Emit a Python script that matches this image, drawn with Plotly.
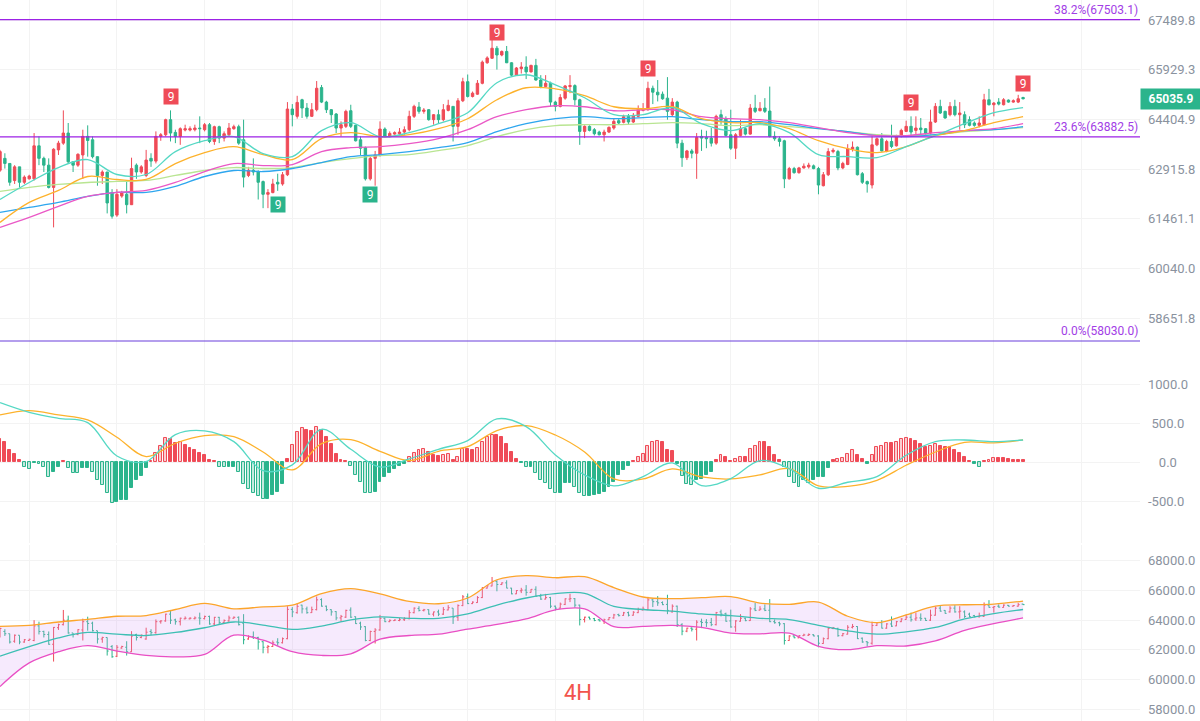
import math
import plotly.graph_objects as go

# 4H candles, oldest first
opens = [62884, 63237, 63086, 62581, 62985, 62530, 62631, 62631, 63611, 63237,
         63035, 62379, 63490, 63692, 63995, 63136, 63035, 63338, 63894, 63793,
         63288, 62732, 62833, 62227, 61571, 62126, 62177, 61874, 63035, 62833,
         62732, 63237, 63156, 63894, 63944, 64399, 64015, 63894, 64085, 64085,
         64096, 64146, 64096, 64247, 63742, 64186, 63843, 63944, 64126, 64186,
         63793, 62732, 62884, 62833, 62550, 62177, 62227, 62530, 62480, 62752,
         64722, 64500, 65005, 64752, 64500, 64702, 65378, 64934, 64702, 64570,
         64146, 64197, 64671, 64227, 63793, 63560, 62631, 63237, 63338, 64116,
         63894, 63964, 63974, 64025, 64096, 64500, 64782, 64651, 64702, 64399,
         64550, 64399, 64681, 64803, 64197, 64974, 65560, 65106, 65176, 65510,
         66146, 66287, 66600, 66388, 66499, 66146, 65762, 65964, 66015, 65863,
         66065, 65611, 65409, 65510, 64934, 64803, 65055, 65409, 65439, 65005,
         64045, 64197, 64096, 64025, 63944, 64025, 64146, 64368, 64318, 64500,
         64328, 64500, 64681, 64702, 65358, 65237, 65176, 65055, 64550, 64934,
         63692, 63257, 63459, 63389, 63894, 63863, 63843, 63692, 64550, 64429,
         63944, 63540, 63924, 64126, 63964, 64752, 64671, 64752, 64661, 63894,
         63823, 63762, 62631, 62934, 62813, 62954, 62985, 63015, 62934, 62429,
         62752, 63439, 63439, 62954, 63055, 63520, 63570, 62783, 62550, 62449,
         63641, 63823, 63459, 63742, 63611, 63894, 64045, 64197, 64075, 64146,
         64126, 63995, 64328, 64803, 64651, 64550, 64803, 64550, 64550, 64399,
         64298, 64227, 64247, 65005, 64853, 64934, 64853, 64994, 64934, 64934,
         65075]
highs = [63490, 63389, 63086, 63035, 62985, 62732, 62752, 63995, 63894, 63288,
         63237, 63540, 63762, 64681, 64298, 63136, 63389, 64096, 64227, 63894,
         63288, 62884, 62833, 62328, 62328, 62278, 62581, 63257, 63086, 63035,
         63490, 63389, 64045, 63995, 64429, 64681, 64096, 64166, 64247, 64197,
         64247, 64500, 64298, 64298, 64217, 64217, 64045, 64298, 64247, 64247,
         64399, 62985, 63237, 62884, 62581, 62328, 62631, 62783, 62833, 64934,
         64873, 65126, 65035, 64904, 64904, 65580, 65459, 64974, 64722, 64601,
         64348, 64702, 64853, 64247, 63894, 63591, 63288, 63459, 64348, 64166,
         64045, 64045, 64146, 64197, 64671, 64853, 64934, 64752, 64722, 64570,
         64702, 64873, 65005, 64803, 65055, 65681, 65782, 65257, 65611, 66217,
         66348, 66893, 66671, 66530, 66671, 66166, 66015, 66166, 66348, 66085,
         66267, 65762, 65762, 65560, 64974, 65176, 65459, 65762, 65479, 65035,
         64227, 64227, 64146, 64065, 64096, 64197, 64419, 64429, 64550, 64570,
         64601, 64833, 64904, 65560, 65439, 65611, 65257, 65701, 65055, 64974,
         63793, 63490, 63520, 63995, 64096, 64065, 64146, 64550, 64702, 64500,
         64702, 63995, 64399, 64166, 64873, 65156, 64934, 65055, 65409, 64045,
         63894, 63793, 62985, 62985, 62985, 63086, 63106, 63055, 62985, 62833,
         63540, 63540, 63490, 63136, 63661, 63742, 63591, 62833, 62581, 63894,
         63863, 63995, 63793, 64247, 63944, 64126, 64368, 64500, 64500, 64449,
         64146, 64702, 64904, 65005, 64671, 64934, 65005, 64934, 64651, 64500,
         64348, 64500, 65186, 65338, 64934, 65055, 65055, 65015, 65015, 65156,
         65095]
lows = [62833, 62934, 62429, 62480, 62379, 62480, 62611, 62581, 63035, 62833,
        62348, 61217, 63338, 63641, 63086, 62833, 62985, 62631, 63288, 63237,
        62429, 62480, 61621, 61470, 61520, 62076, 61621, 61864, 62631, 62783,
        62682, 62985, 63086, 63762, 63894, 63742, 63692, 63641, 64045, 64045,
        64045, 63692, 64045, 63692, 63641, 63692, 63742, 63894, 64096, 63641,
        62379, 62682, 62732, 62025, 61773, 61773, 62207, 62278, 62429, 62712,
        64197, 64429, 64449, 64429, 64479, 64651, 64904, 64601, 64298, 63995,
        63894, 64146, 64146, 63742, 63338, 62581, 62581, 62429, 63288, 63863,
        63863, 63944, 63924, 63944, 64045, 64449, 64580, 64580, 64368, 64247,
        64267, 64348, 64651, 63742, 63944, 64934, 65075, 65075, 65156, 65479,
        66116, 66267, 65934, 66348, 66136, 65732, 65742, 65813, 65641, 65843,
        65590, 65358, 65388, 64803, 64651, 64772, 65005, 65207, 64833, 63641,
        63843, 64045, 63924, 63924, 63742, 63995, 64096, 64247, 64287, 64247,
        64298, 64469, 64651, 64671, 64873, 64954, 65005, 64399, 64500, 63540,
        62985, 63187, 63237, 62631, 63459, 63540, 63591, 63641, 64247, 63894,
        63490, 63217, 63894, 63924, 63944, 64601, 64651, 64601, 63863, 63762,
        63591, 62358, 62611, 62783, 62783, 62934, 62934, 62914, 62177, 62409,
        62712, 63389, 62884, 62914, 63035, 63439, 62732, 62480, 62227, 62348,
        63601, 63439, 63419, 63540, 63591, 63863, 64025, 63894, 63944, 63944,
        63944, 63944, 64298, 64570, 64429, 64500, 64500, 64096, 64146, 64197,
        64186, 64166, 64227, 64833, 64500, 64833, 64833, 64914, 64914, 64904,
        65015]
closes = [63439, 63086, 62530, 62985, 62530, 62682, 62712, 63611, 63237, 63035,
          62379, 63510, 63692, 63995, 63136, 63035, 63358, 63894, 63772, 63288,
          62732, 62833, 61924, 61540, 62177, 62227, 61874, 62934, 62833, 62985,
          63187, 63156, 63894, 63944, 64399, 63995, 63894, 64126, 64126, 64126,
          64146, 64126, 64247, 63742, 64186, 63843, 63974, 64146, 64186, 63692,
          62682, 62884, 62833, 62530, 62177, 62227, 62480, 62480, 62752, 64722,
          64550, 64924, 64752, 64500, 64702, 65358, 64934, 64702, 64550, 64146,
          64247, 64651, 64197, 63762, 63540, 62631, 63237, 63338, 64116, 63894,
          63984, 64005, 64025, 64096, 64500, 64803, 64651, 64691, 64399, 64550,
          64399, 64702, 64833, 64197, 64974, 65560, 65106, 65207, 65510, 66166,
          66297, 66600, 66388, 66499, 66146, 65762, 65984, 66015, 65863, 66065,
          65611, 65409, 65510, 64934, 64803, 65075, 65429, 65439, 65005, 64045,
          64197, 64075, 63974, 63944, 64025, 64166, 64348, 64298, 64489, 64328,
          64530, 64712, 64732, 65358, 65237, 65156, 65035, 64651, 64934, 63692,
          63257, 63459, 63389, 63863, 63843, 63823, 63692, 64500, 64399, 63924,
          63540, 63944, 64126, 63964, 64752, 64651, 64742, 64651, 63894, 63823,
          63742, 62631, 62934, 62813, 62954, 63005, 63035, 62934, 62449, 62752,
          63439, 63479, 62954, 63086, 63520, 63570, 62752, 62530, 62480, 63641,
          63823, 63459, 63742, 63591, 63894, 64075, 64197, 64025, 64146, 64096,
          63974, 64328, 64803, 64601, 64449, 64803, 64550, 64601, 64247, 64227,
          64227, 64298, 65005, 64853, 64904, 64873, 65005, 64934, 64974, 65035,
          65035.9]
candle_idx = list(range(len(closes)))

# indicator lines, read every 6th candle
line_idx = list(range(0, 211, 6))
ma_cyan = [62028, 62524, 62965, 63201, 62759, 62759, 63438, 63766, 63886, 63379,
           63290, 64066, 64307, 63886, 64006, 64277, 64610, 65527, 65774, 65465,
           65067, 64550, 64550, 64762, 64277, 64066, 64277, 64006, 63349, 63290,
           63260, 63587, 63916, 64277, 64610, 64762]
ma_orange = [61361, 61940, 62290, 62700, 62612, 62612, 63083, 63408, 63587, 63349,
             63201, 63826, 64006, 63886, 63946, 64126, 64428, 65006, 65373, 65342,
             65129, 64792, 64731, 64792, 64428, 64307, 64307, 64126, 63766, 63527,
             63408, 63587, 63916, 64066, 64307, 64489]
ma_magenta = [61217, 61505, 61824, 62115, 62232, 62290, 62524, 62847, 63083, 63024,
              63054, 63438, 63557, 63587, 63676, 63826, 64096, 64489, 64701, 64822,
              64792, 64670, 64701, 64701, 64489, 64428, 64398, 64307, 64156, 64006,
              63916, 63916, 64006, 64066, 64126, 64277]
ma_blue = [61650, 61795, 61940, 62115, 62232, 62232, 62407, 62700, 62877, 62847,
           62936, 63113, 63290, 63349, 63438, 63557, 63706, 64036, 64277, 64428,
           64489, 64428, 64459, 64489, 64398, 64338, 64338, 64247, 64126, 64036,
           63916, 63886, 63946, 64066, 64096, 64187]
ma_lime = [62261, 62378, 62466, 62524, 62554, 62583, 62730, 62877, 62965, 62936,
           62965, 63113, 63231, 63319, 63349, 63468, 63617, 63886, 64096, 64217,
           64247, 64247, 64277, 64307, 64277, 64217, 64247, 64187, 64126, 64036,
           63946, 63916, 63946, 64036, 64096, 64156]

dif = [765, 641, 564, 509, 81, 9, 355, 402, 265, -107, -34, 423, 167, -60, 43, 167,
       278, 556, 457, 94, -162, -303, -184, -9, -299, -209, 21, -81, -333, -256,
       -184, 90, 265, 286, 265, 286]
dea = [607, 662, 607, 543, 321, 73, 244, 342, 329, 132, -98, 239, 291, 141, 21, 141,
       201, 406, 470, 350, 132, -214, -214, -85, -188, -214, -162, -81, -303, -308,
       -231, -38, 132, 256, 248, 286]
macd_hist = [295, 265, 158, 107, 30, -56, -90, -13, -21, -64,
             -184, -120, -56, 21, -68, -132, -141, -77, -77, -120,
             -226, -291, -389, -517, -504, -483, -483, -333, -226, -175,
             -77, 21, 124, 209, 308, 295, 252, 265, 222, 180,
             158, 124, 94, 30, 17, -56, -64, -64, -64, -120,
             -278, -346, -389, -427, -474, -474, -419, -376, -278, 38,
             218, 393, 436, 415, 406, 449, 415, 320, 235, 107,
             30, 21, -47, -162, -248, -389, -397, -376, -248, -184,
             -132, -90, -47, -21, 64, 115, 158, 167, 137, 94,
             81, 94, 103, 30, 64, 167, 167, 158, 180, 265,
             329, 350, 350, 320, 235, 137, 38, -13, -64, -64,
             -141, -226, -269, -346, -397, -389, -269, -261, -312, -397,
             -427, -427, -419, -406, -376, -312, -248, -162, -98, -47,
             21, 64, 107, 209, 265, 274, 261, 158, 145, -21,
             -175, -278, -291, -226, -218, -162, -120, 30, 94, 64,
             21, 43, 64, 64, 175, 209, 261, 261, 201, 94,
             30, -64, -192, -261, -312, -226, -261, -226, -192, -184,
             -77, 30, 38, 51, 107, 158, 94, 38, -21, 94,
             192, 209, 252, 252, 265, 295, 308, 295, 278, 235,
             201, 209, 235, 209, 201, 192, 158, 115, 73, 21,
             -21, -56, 21, 30, 51, 51, 51, 38, 30, 30,
             30]

bb_upper = [63578, 63646, 63873, 64054, 64258, 64304, 64712, 65120, 64757, 64893,
            65007, 65778, 66118, 65755, 65256, 65097, 65483, 66708, 66980, 66844,
            66912, 66186, 65551, 65438, 65506, 65574, 65143, 65052, 65211, 64258,
            63827, 64349, 64939, 65029, 65075, 65279]
bb_mid = [61582, 62217, 62807, 63170, 63057, 62966, 63170, 63487, 63873, 63669,
          63374, 63601, 64009, 64213, 64122, 64122, 64417, 65007, 65483, 65778,
          65801, 64916, 64712, 64598, 64417, 64304, 64122, 64031, 63646, 63283,
          63057, 63215, 63510, 64077, 64440, 64712]
bb_lower = [59541, 61128, 61877, 62285, 61922, 61627, 61537, 61695, 62988, 62648,
            61877, 61627, 61741, 62716, 62966, 63057, 63396, 63714, 64077, 64689,
            64757, 63555, 63578, 63646, 63510, 63124, 63079, 63124, 62240, 62013,
            62285, 62262, 62603, 63306, 63759, 64145]

price_ticks = [58651.8, 60040.0, 61461.1, 62915.8, 64404.9, 65929.3, 67489.8]
macd_ticks = [-500, 0, 500, 1000]
macd_labels = ["-500.0", "\u2007\u20080.0", "\u2008500.0", "1000.0"]
bb_ticks = [58000, 60000, 62000, 64000, 66000, 68000]
fib_levels = [("38.2%", 67503.1), ("23.6%", 63882.5), ("0.0%", 58030.0)]
sell_nine = [35, 102, 133, 187, 210]
buy_nine = [57, 76]
last_price = 65035.9

UP = "#ef4b57"
DOWN = "#2bb48c"
GRID = "#f3f3f3"
TICK_FONT = dict(family="Roboto, Arial", size=13, color="#8a929e")

fig = go.Figure()

# price panel
fig.add_trace(go.Candlestick(
    x=candle_idx, open=opens, high=highs, low=lows, close=closes,
    increasing=dict(line=dict(color=UP, width=1), fillcolor=UP),
    decreasing=dict(line=dict(color=DOWN, width=1), fillcolor=DOWN),
    whiskerwidth=0, xaxis="x", yaxis="y", showlegend=False))

ma_lines = [(ma_lime, "#b9e592"), (ma_blue, "#2ea6ee"), (ma_magenta, "#ea58c6"),
            (ma_orange, "#fdb22c"), (ma_cyan, "#55d8c4")]
for vals, col in ma_lines:
    fig.add_trace(go.Scatter(x=line_idx, y=vals, mode="lines", line=dict(color=col, width=1.3),
                             line_shape="spline", xaxis="x", yaxis="y", showlegend=False,
                             hoverinfo="skip"))

for pct, lvl in fib_levels:
    col = "#6a3fdc" if pct == "0.0%" else "#9c22e6"
    fig.add_trace(go.Scatter(x=[-5, 300], y=[lvl, lvl], mode="lines", line=dict(color=col, width=1.2),
                             xaxis="x", yaxis="y", showlegend=False, hoverinfo="skip"))
    fig.add_annotation(x=1, xref="x domain", xanchor="right", y=math.log10(lvl), yref="y",
                       yanchor="bottom", yshift=1, text=f"{pct}({lvl:.1f})", showarrow=False,
                       font=dict(family="Roboto, Arial", size=12, color="#a23de6"))

for i in sell_nine:
    fig.add_annotation(x=i, y=math.log10(highs[i]), xref="x", yref="y", text="9",
                       showarrow=False, yanchor="bottom", yshift=5, bgcolor=UP,
                       width=14, height=15, borderpad=0,
                       font=dict(family="Roboto, Arial", size=12, color="white"))
for i in buy_nine:
    fig.add_annotation(x=i, y=math.log10(lows[i]), xref="x", yref="y", text="9",
                       showarrow=False, yanchor="top", yshift=-5, bgcolor=DOWN,
                       width=14, height=15, borderpad=0,
                       font=dict(family="Roboto, Arial", size=12, color="white"))

fig.add_annotation(x=1, xref="x domain", xanchor="left", y=math.log10(last_price), yref="y",
                   text=f"<b>{last_price:.1f}</b>", showarrow=False, bgcolor=DOWN,
                   width=56, height=16, borderpad=2,
                   font=dict(family="Roboto, Arial", size=12, color="white"))

# MACD panel
bar_fill, bar_line = [], []
for i, v in enumerate(macd_hist):
    prev = macd_hist[i - 1] if i else v
    base = UP if v >= 0 else DOWN
    light = "rgba(239,75,87,0.28)" if v >= 0 else "rgba(43,180,140,0.28)"
    bar_line.append(base)
    bar_fill.append(light if abs(v) > abs(prev) else base)
fig.add_trace(go.Bar(x=candle_idx, y=macd_hist, width=0.6,
                     marker=dict(color=bar_fill, line=dict(color=bar_line, width=1)),
                     xaxis="x2", yaxis="y2", showlegend=False, hoverinfo="skip"))
fig.add_trace(go.Scatter(x=line_idx, y=dea, mode="lines", line=dict(color="#fdb22c", width=1.3),
                         line_shape="spline", xaxis="x2", yaxis="y2", showlegend=False))
fig.add_trace(go.Scatter(x=line_idx, y=dif, mode="lines", line=dict(color="#55d8c4", width=1.3),
                         line_shape="spline", xaxis="x2", yaxis="y2", showlegend=False))

# Bollinger panel
fig.add_trace(go.Scatter(x=line_idx, y=bb_upper, mode="lines", line=dict(color="#fca52b", width=1.3),
                         line_shape="spline", xaxis="x3", yaxis="y3", showlegend=False))
fig.add_trace(go.Scatter(x=line_idx, y=bb_lower, mode="lines", line=dict(color="#e94fc4", width=1.3),
                         line_shape="spline", fill="tonexty", fillcolor="rgba(214,160,245,0.22)",
                         xaxis="x3", yaxis="y3", showlegend=False))
fig.add_trace(go.Scatter(x=line_idx, y=bb_mid, mode="lines", line=dict(color="#3dbfb4", width=1.3),
                         line_shape="spline", xaxis="x3", yaxis="y3", showlegend=False))
fig.add_trace(go.Ohlc(x=candle_idx, open=opens, high=highs, low=lows, close=closes,
                      increasing=dict(line=dict(color=UP, width=1)),
                      decreasing=dict(line=dict(color=DOWN, width=1)),
                      tickwidth=0.3, xaxis="x3", yaxis="y3", showlegend=False))

fig.add_annotation(x=578 / 1200, y=0.04, xref="paper", yref="paper", text="4H", showarrow=False,
                   xanchor="center", yanchor="middle",
                   font=dict(family="Roboto, Arial", size=22, color="#f2544c"))

xbase = dict(domain=[0, 0.95], range=[0, 234], showticklabels=False, showgrid=True,
             gridcolor=GRID, tick0=6, dtick=18, zeroline=False, showline=False,
             rangeslider=dict(visible=False))
fig.update_layout(
    width=1200, height=721, margin=dict(l=0, r=0, t=0, b=0),
    paper_bgcolor="white", plot_bgcolor="white", showlegend=False,
    bargap=0,
    xaxis=dict(xbase, anchor="y"),
    xaxis2=dict(xbase, anchor="y2", matches="x"),
    xaxis3=dict(xbase, anchor="y3", matches="x"),
    yaxis=dict(domain=[0.5215, 1], type="log", range=[4.76284, 4.83333], side="right",
               tickvals=price_ticks, ticktext=[f"{v:.1f}" for v in price_ticks],
               tickfont=TICK_FONT, gridcolor=GRID, zeroline=False, anchor="x",
               ticklabelstandoff=7),
    yaxis2=dict(domain=[0.2469, 0.5215], range=[-1035, 1504], side="right",
                tickvals=macd_ticks, ticktext=macd_labels,
                tickfont=TICK_FONT, gridcolor=GRID, zeroline=False, anchor="x2",
                ticklabelstandoff=7),
    yaxis3=dict(domain=[0, 0.2441], range=[57228, 69040], side="right",
                tickvals=bb_ticks, ticktext=[f"{v:.1f}" for v in bb_ticks],
                tickfont=TICK_FONT, gridcolor=GRID, zeroline=False, anchor="x3",
                ticklabelstandoff=7),
)

fig.write_html("out.html", config={"displayModeBar": False},
               post_script="document.body.style.margin='0';")
